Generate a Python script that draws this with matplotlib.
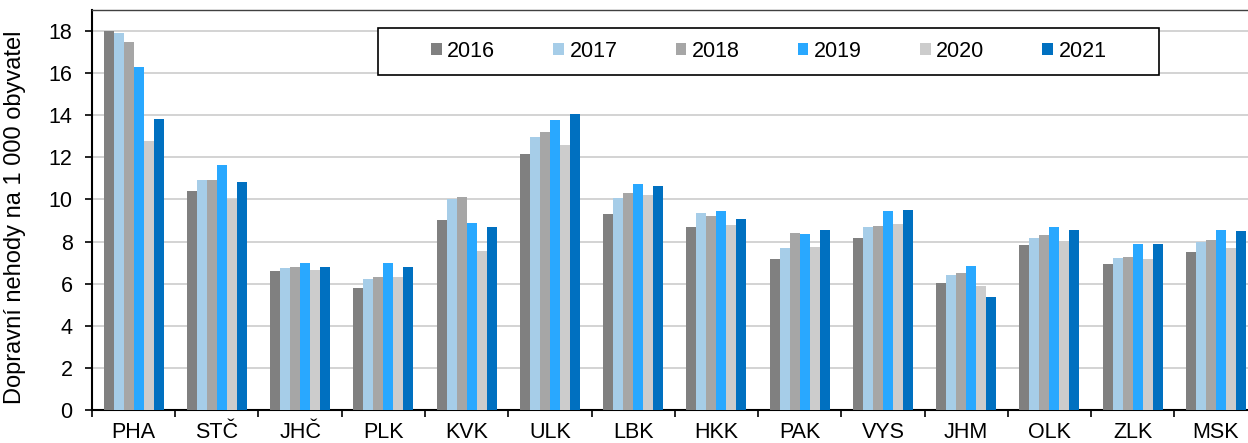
import matplotlib.pyplot as plt
import numpy as np
from matplotlib.patches import Rectangle

plt.rcParams['font.family'] = ['Liberation Sans', 'DejaVu Sans']

# Kraje a roky
kraje = ["PHA", "STČ", "JHČ", "PLK", "KVK", "ULK", "LBK", "HKK", "PAK", "VYS", "JHM", "OLK", "ZLK", "MSK"]
roky = ["2016", "2017", "2018", "2019", "2020", "2021"]

# Dopravní nehody na 1 000 obyvatel
n2016 = [18.0, 10.38, 6.62, 5.81, 9.02, 12.17, 9.32, 8.68, 7.17, 8.16, 6.03, 7.86, 6.92, 7.51]
n2017 = [17.92, 10.94, 6.73, 6.21, 10.03, 12.97, 10.08, 9.38, 7.68, 8.71, 6.43, 8.16, 7.24, 8.0]
n2018 = [17.5, 10.94, 6.81, 6.32, 10.1, 13.19, 10.33, 9.22, 8.40, 8.76, 6.49, 8.32, 7.27, 8.08]
n2019 = [16.3, 11.65, 7.0, 6.97, 8.89, 13.78, 10.73, 9.43, 8.38, 9.46, 6.86, 8.71, 7.90, 8.54]
n2020 = [12.76, 10.03, 6.67, 6.33, 7.57, 12.57, 10.19, 8.79, 7.76, 8.84, 5.90, 8.05, 7.16, 7.68]
n2021 = [13.84, 10.84, 6.81, 6.79, 8.71, 14.06, 10.63, 9.06, 8.56, 9.49, 5.38, 8.56, 7.90, 8.49]

serie = [n2016, n2017, n2018, n2019, n2020, n2021]
barvy = ["#808080", "#A6CDE8", "#A6A6A6", "#29A8FF", "#CCCCCC", "#0070C0"]

fig = plt.figure(figsize=(12.48, 4.43), dpi=100)
ax = fig.add_axes([0.0737, 0.0745, 0.934, 0.903])

x = np.arange(len(kraje))
sirka = 0.12
for i, (hodnoty, barva, rok) in enumerate(zip(serie, barvy, roky)):
    ax.bar(x + (i - 2.5) * sirka, hodnoty, sirka, color=barva, label=rok, zorder=3)

ax.set_xlim(-0.5, len(kraje) - 0.5)
ax.set_ylim(0, 19)
ax.set_yticks(np.arange(0, 19, 2))
ax.tick_params(axis='y', labelsize=15.5, direction='out', length=5, width=1.2, pad=9)

# popisky krajů uprostřed, čárky na hranicích
ax.set_xticks(np.arange(len(kraje) + 1) - 0.5)
ax.set_xticklabels([])
ax.set_xticks(x, minor=True)
ax.set_xticklabels(kraje, minor=True, fontsize=15.5)
ax.tick_params(axis='x', which='major', direction='out', length=5, width=1.2)
ax.tick_params(axis='x', which='minor', length=0, pad=9)

ax.grid(axis='y', color='#D0D0D0', linewidth=1.3, zorder=0)
ax.set_axisbelow(True)

for s in ['left', 'bottom']:
    ax.spines[s].set_linewidth(1.5)
ax.spines['top'].set_linewidth(1.0)
ax.spines['top'].set_color('#404040')

ax.set_ylabel("Dopravní nehody na 1 000 obyvatel", fontsize=17)
ax.yaxis.set_label_coords(-0.0566, 0.4825)

# legenda v rámečku
ramecek = Rectangle((0.303, 0.831), 0.626, 0.106, transform=fig.transFigure,
                    facecolor='white', edgecolor='black', linewidth=1.2,
                    zorder=5, clip_on=False)
ax.add_patch(ramecek)
leg = ax.legend(loc='center', bbox_to_anchor=(0.303 + 0.313, 0.884),
                bbox_transform=fig.transFigure, ncol=6, frameon=False,
                fontsize=15.5, handlelength=0.5, handleheight=0.5,
                handletextpad=0.25, columnspacing=2.7)
leg.set_zorder(6)

fig.savefig("out.png", dpi=100)
